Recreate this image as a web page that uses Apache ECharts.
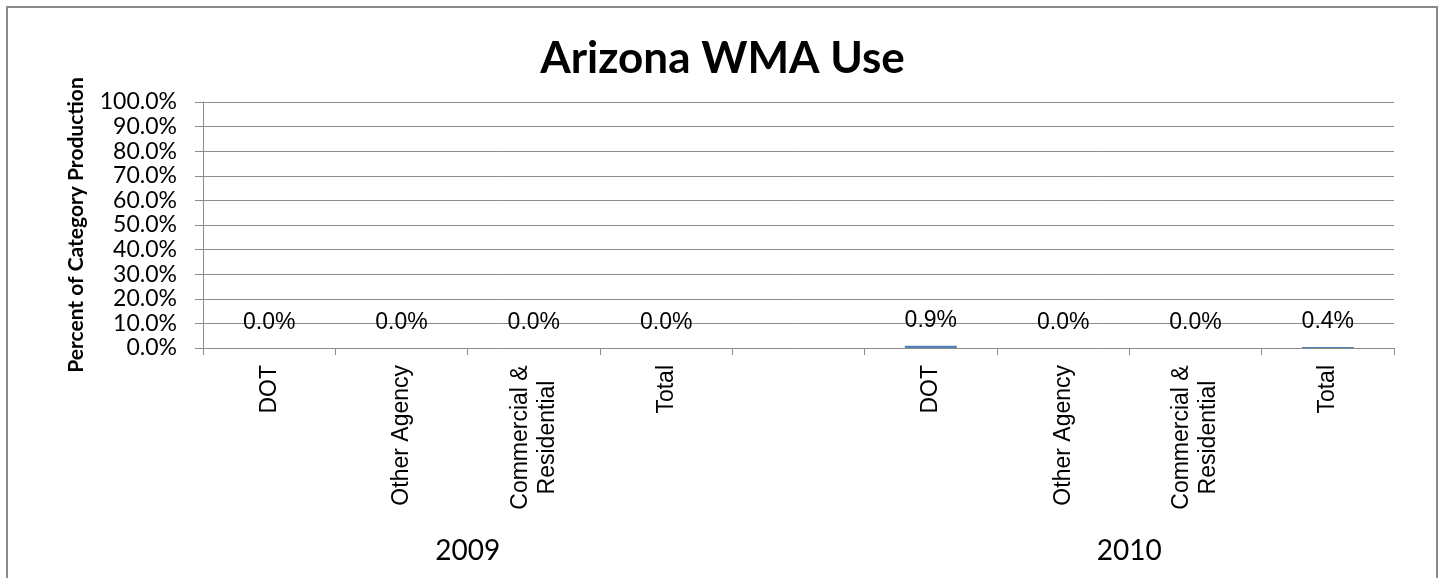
<!DOCTYPE html>
<html>
<head>
<meta charset="utf-8">
<script src="https://cdn.jsdelivr.net/npm/echarts@6/dist/echarts.min.js"></script>
<style>
html,body{margin:0;padding:0;background:#fff;}
#chart{width:1445px;height:578px;}
</style>
</head>
<body>
<div id="chart"></div>
<script>
const titleText = 'Arizona WMA Use';
const yAxisTitle = 'Percent of Category Production';
const categories = ['DOT', 'Other Agency', 'Commercial &\nResidential', 'Total', '', 'DOT', 'Other Agency', 'Commercial &\nResidential', 'Total'];
const groupOfCategory = ['2009', '2009', '2009', '2009', null, '2010', '2010', '2010', '2010'];
const groups = ['2009', '2010'];
const values = [0.0, 0.0, 0.0, 0.0, null, 0.9, 0.0, 0.0, 0.4];
const yTicks = { min: 0, max: 100, step: 10 };

// centre of each group on a 0..N scale (category i spans [i, i+1])
const groupCenters = groups.map(g => {
  const idx = groupOfCategory.map((v, i) => v === g ? i : -1).filter(i => i >= 0);
  return (Math.min(...idx) + Math.max(...idx) + 1) / 2;
});

const CAT_FONT = 'Liberation Sans';
const CAT_SIZE = 23;
const measureCtx = document.createElement('canvas').getContext('2d');
measureCtx.font = CAT_SIZE + 'px "' + CAT_FONT + '"';
function catLabel(v) {
  if (v.indexOf('\n') < 0) return v;
  const lines = v.split('\n');
  return lines.map(l => '{c|' + l + '}').join('\n');
}
const multiWidths = categories.filter(c => c.indexOf('\n') >= 0)
  .map(c => Math.max(...c.split('\n').map(l => measureCtx.measureText(l).width)));
const richW = multiWidths.length ? Math.ceil(Math.max(...multiWidths)) : 0;

const GRID = '#8c8c8c';
const chart = echarts.init(document.getElementById('chart'), null, { renderer: 'canvas' });
chart.setOption({
  animation: false,
  backgroundColor: '#fff',
  title: {
    text: titleText,
    left: 'center',
    top: 32,
    textStyle: { fontFamily: 'Lato', fontWeight: 'bold', fontSize: 44, color: '#000' }
  },
  graphic: [{
    type: 'rect',
    shape: { x: 7, y: 7, width: 1430, height: 620 },
    style: { fill: 'none', stroke: '#898989', lineWidth: 2 },
    silent: true
  }],
  grid: { left: 203, right: 51, top: 102, bottom: 230, containLabel: false },
  xAxis: [{
    type: 'category',
    data: categories,
    position: 'bottom',
    axisLine: { show: true, lineStyle: { color: GRID, width: 1 } },
    axisTick: { show: true, alignWithLabel: false, length: 7, lineStyle: { color: GRID } },
    axisLabel: {
      rotate: 90, interval: 0, margin: 17,
      fontFamily: CAT_FONT, fontSize: CAT_SIZE, color: '#000', lineHeight: 27,
      formatter: catLabel,
      rich: {
        c: { fontFamily: CAT_FONT, fontSize: CAT_SIZE, color: '#000', lineHeight: 27, width: richW, align: 'center' }
      }
    },
    splitLine: { show: false }
  }, {
    type: 'value',
    min: 0, max: categories.length,
    position: 'bottom',
    offset: 189,
    axisLine: { show: false },
    axisTick: { show: false },
    splitLine: { show: false },
    axisLabel: {
      customValues: groupCenters,
      margin: 0,
      fontFamily: 'Lato', fontSize: 28, color: '#000',
      formatter: v => {
        const k = groupCenters.findIndex(c => Math.abs(c - v) < 1e-6);
        return k >= 0 ? groups[k] : '';
      }
    }
  }],
  yAxis: {
    type: 'value',
    min: yTicks.min, max: yTicks.max, interval: yTicks.step,
    name: yAxisTitle,
    nameLocation: 'middle',
    nameRotate: 90,
    nameGap: 116,
    nameTextStyle: { fontFamily: 'Lato', fontWeight: 'bold', fontSize: 21, color: '#000' },
    axisLine: { show: true, lineStyle: { color: GRID, width: 1 } },
    axisTick: { show: true, length: 8, lineStyle: { color: GRID } },
    axisLabel: {
      margin: 26, fontFamily: 'Lato', fontSize: 23, color: '#000',
      formatter: v => v.toFixed(1) + '%'
    },
    splitLine: { show: true, lineStyle: { color: GRID, width: 1 } }
  },
  series: [{
    type: 'bar',
    xAxisIndex: 0,
    data: values,
    barWidth: 52,
    itemStyle: { color: '#4F81BD' },
    label: {
      show: true, position: 'top', distance: 14,
      fontFamily: 'Liberation Sans', fontSize: 23, color: '#000',
      formatter: p => (p.value == null ? '' : p.value.toFixed(1) + '%')
    }
  }]
});
</script>
</body>
</html>
